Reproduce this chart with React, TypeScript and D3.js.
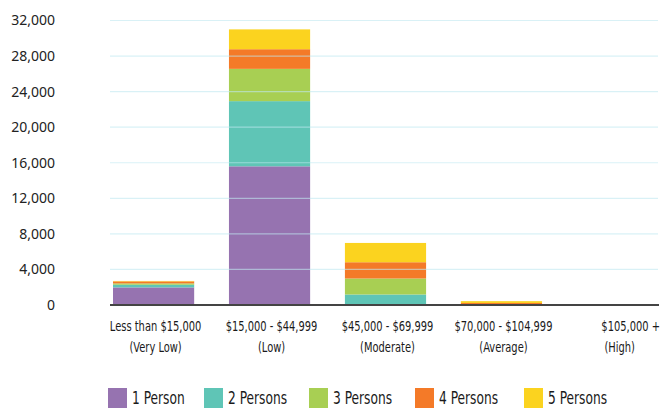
import { useEffect, useRef } from 'react';
import * as d3 from 'd3';

const categories = [
  ['Less than $15,000', '(Very Low)'],
  ['$15,000 - $44,999', '(Low)'],
  ['$45,000 - $69,999', '(Moderate)'],
  ['$70,000 - $104,999', '(Average)'],
  ['$105,000 +', '(High)'],
];
const seriesNames = ['1 Person', '2 Persons', '3 Persons', '4 Persons', '5 Persons'];
const colors = ['#9673b0', '#5fc5b6', '#a8cf53', '#f47a28', '#fbd31f'];

const onePerson = [1980, 15600, 30, 0, 0];
const twoPersons = [300, 7330, 1150, 30, 0];
const threePersons = [150, 3630, 1800, 60, 0];
const fourPersons = [225, 2210, 1830, 140, 0];
const fivePersons = [50, 2230, 2170, 200, 0];

const yTicks = [0, 4000, 8000, 12000, 16000, 20000, 24000, 28000, 32000];

const W = 660;
const H = 409;
const condensed = '"DejaVu Sans Condensed", "DejaVu Sans", sans-serif';

const App = () => {
  const svgRef = useRef<SVGSVGElement>(null);

  useEffect(() => {
    if (!svgRef.current) return;
    const svg = d3.select(svgRef.current);
    svg.selectAll('*').remove();

    const series = [onePerson, twoPersons, threePersons, fourPersons, fivePersons];
    const rows = categories.map((c, i) => {
      const r: any = { key: c[0] };
      seriesNames.forEach((s, j) => (r[s] = series[j][i]));
      return r;
    });
    const stacked = d3.stack().keys(seriesNames)(rows);

    const x = d3
      .scaleBand()
      .domain(categories.map((c) => c[0]))
      .range([113, 658])
      .paddingInner(0.3)
      .paddingOuter(0);
    const y = d3.scaleLinear().domain([0, 32000]).range([305, 20.5]);

    // bars
    svg
      .append('g')
      .selectAll('g')
      .data(stacked)
      .join('g')
      .attr('fill', (_, i) => colors[i])
      .selectAll('rect')
      .data((d) => d)
      .join('rect')
      .attr('x', (d: any) => x(d.data.key)!)
      .attr('width', x.bandwidth())
      .attr('y', (d) => y(d[1]))
      .attr('height', (d) => Math.max(0, y(d[0]) - y(d[1])));

    // grid on top, translucent
    svg
      .append('g')
      .selectAll('line')
      .data(yTicks.filter((t) => t > 0))
      .join('line')
      .attr('x1', 110)
      .attr('x2', 658)
      .attr('y1', (d) => y(d))
      .attr('y2', (d) => y(d))
      .attr('stroke', '#bfe7f0')
      .attr('stroke-opacity', 0.6)
      .attr('stroke-width', 1.2);

    // baseline
    svg
      .append('line')
      .attr('x1', 110)
      .attr('x2', 659)
      .attr('y1', y(0))
      .attr('y2', y(0))
      .attr('stroke', '#444')
      .attr('stroke-width', 2);

    // y labels
    svg
      .append('g')
      .selectAll('text')
      .data(yTicks)
      .join('text')
      .attr('x', 55)
      .attr('y', (d) => y(d))
      .attr('dy', '0.35em')
      .attr('text-anchor', 'end')
      .attr('font-family', '"Noto Sans", "Open Sans", sans-serif')
      .attr('font-size', 14)
      .attr('fill', '#222')
      .text((d) => d3.format(',')(d));

    // x labels (squeezed horizontally to mimic the condensed face)
    const last = categories.length - 1;
    const xl = svg
      .append('g')
      .selectAll('text')
      .data(categories)
      .join('text')
      .attr('text-anchor', (_, i) => (i === last ? 'end' : 'middle'))
      .attr('transform', (d, i) => {
        const cx =
          i === last ? x(d[0])! + x.bandwidth() + 2 : x(d[0])! + x.bandwidth() / 2 + 2;
        return `translate(${cx},0) scale(0.76,1)`;
      })
      .attr('font-family', condensed)
      .attr('font-size', 14.5)
      .attr('fill', '#1a1a1a');
    xl.append('tspan')
      .attr('x', 0)
      .attr('y', 331)
      .text((d) => d[0]);
    xl.append('tspan')
      .attr('x', (_, i) => (i === last ? -33 : 0))
      .attr('y', 352)
      .text((d) => d[1]);

    // legend
    const legendX = [108, 204, 309, 415, 524];
    const lg = svg
      .append('g')
      .selectAll('g')
      .data(seriesNames)
      .join('g')
      .attr('transform', (_, i) => `translate(${legendX[i]},388)`);
    lg.append('rect')
      .attr('width', 19)
      .attr('height', 20)
      .attr('fill', (_, i) => colors[i]);
    lg.append('text')
      .attr('transform', 'translate(24,10) scale(0.8,1)')
      .attr('dy', '0.36em')
      .attr('font-family', condensed)
      .attr('font-size', 17)
      .attr('fill', '#1a1a1a')
      .text((d) => d);
  }, []);

  return (
    <svg
      ref={svgRef}
      width={W}
      height={H}
      style={{ position: 'absolute', left: 0, top: 0, background: '#fff' }}
    />
  );
};

export default App;
